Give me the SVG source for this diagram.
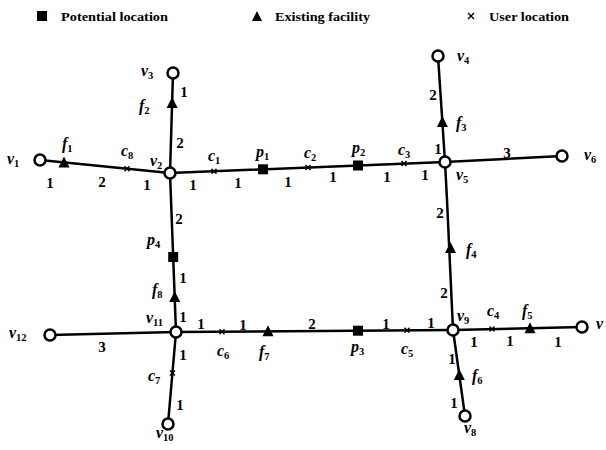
<svg xmlns="http://www.w3.org/2000/svg" width="606" height="450" viewBox="0 0 606 450">
<defs>
<style>
.e{stroke:#000;stroke-width:2.5;fill:none;stroke-linecap:round}
.n{fill:#fff;stroke:#000;stroke-width:2.5}
.sq{fill:#000}
.tr{fill:#000}
.x{stroke:#000;stroke-width:1.4;fill:none}
.lg{font-family:"Liberation Serif",serif;font-weight:bold;font-size:13.5px;fill:#000}
.lb{font-family:"Liberation Serif",serif;font-style:italic;font-weight:bold;font-size:16px;fill:#000}
.lb tspan{font-style:normal;font-size:10.5px}
.w{font-family:"Liberation Serif",serif;font-weight:bold;font-size:15px;fill:#000;text-anchor:middle}
</style>
<path id="tri" d="M-5.5,5 L5.5,5 L0,-6 Z"/>
<rect id="sqr" x="-5" y="-5" width="10" height="10"/>
<path id="xm" d="M-2.5,-2.5 L2.5,2.5 M-2.5,2.5 L2.5,-2.5"/>
</defs>
<rect width="606" height="450" fill="#fff"/>

<g id="legend">
<rect x="37" y="11" width="10" height="10" class="sq"/>
<text x="61" y="21" class="lg" textLength="107" lengthAdjust="spacingAndGlyphs">Potential location</text>
<path d="M252,21 L262,21 L257,11 Z" class="tr"/>
<text x="275" y="21" class="lg" textLength="95" lengthAdjust="spacingAndGlyphs">Existing facility</text>
<path d="M468,13 L474,19 M468,19 L474,13" class="x"/>
<text x="489" y="21" class="lg" textLength="80" lengthAdjust="spacingAndGlyphs">User location</text>
</g>

<g id="connectors">
<line class="e" x1="40" y1="160" x2="170" y2="173"/>
<line class="e" x1="170" y1="173" x2="173" y2="73"/>
<line class="e" x1="170" y1="173" x2="445" y2="162"/>
<line class="e" x1="445" y1="162" x2="438" y2="56"/>
<line class="e" x1="445" y1="162" x2="562" y2="156"/>
<line class="e" x1="170" y1="173" x2="176" y2="332"/>
<polyline class="e" points="445,162 447,200 453,330"/>
<line class="e" x1="176" y1="332" x2="50" y2="335"/>
<line class="e" x1="176" y1="332" x2="453" y2="330"/>
<line class="e" x1="176" y1="332" x2="168" y2="424"/>
<line class="e" x1="453" y1="330" x2="582" y2="327"/>
<line class="e" x1="453" y1="330" x2="465" y2="416"/>
</g>

<g id="markers">
<use href="#tri" class="tr" x="64" y="162.5"/>
<use href="#xm" class="x" x="127" y="168.7"/>
<use href="#xm" class="x" x="214" y="171.2"/>
<use href="#sqr" class="sq" x="263" y="169.3"/>
<use href="#xm" class="x" x="308" y="167.5"/>
<use href="#sqr" class="sq" x="358" y="165.5"/>
<use href="#xm" class="x" x="404" y="163.6"/>
<use href="#tri" class="tr" x="172.1" y="103"/>
<use href="#tri" class="tr" x="442.4" y="122"/>
<use href="#sqr" class="sq" x="173.2" y="257"/>
<use href="#tri" class="tr" x="174.7" y="297"/>
<use href="#tri" class="tr" x="450.5" y="248"/>
<use href="#xm" class="x" x="222" y="331.7"/>
<use href="#tri" class="tr" x="268" y="331.3"/>
<use href="#sqr" class="sq" x="358" y="330.7"/>
<use href="#xm" class="x" x="407" y="330.3"/>
<use href="#xm" class="x" x="492" y="329.1"/>
<use href="#tri" class="tr" x="530" y="328.2"/>
<use href="#tri" class="tr" x="459.3" y="375"/>
<use href="#xm" class="x" x="172.4" y="373"/>
</g>

<g id="v1"><circle class="n" cx="40" cy="160" r="5.5"/><text class="lb" x="7" y="164">v<tspan dy="3">1</tspan></text></g>
<g id="v2"><circle class="n" cx="170" cy="173" r="5.5"/><text class="lb" x="150" y="166">v<tspan dy="3">2</tspan></text></g>
<g id="v3"><circle class="n" cx="173" cy="73" r="5.5"/><text class="lb" x="141" y="76">v<tspan dy="3">3</tspan></text></g>
<g id="v4"><circle class="n" cx="438" cy="56" r="5.5"/><text class="lb" x="457" y="61">v<tspan dy="3">4</tspan></text></g>
<g id="v5"><circle class="n" cx="445" cy="162" r="5.5"/><text class="lb" x="456" y="180">v<tspan dy="3">5</tspan></text></g>
<g id="v6"><circle class="n" cx="562" cy="156" r="5.5"/><text class="lb" x="584" y="160">v<tspan dy="3">6</tspan></text></g>
<g id="v7"><circle class="n" cx="582" cy="327" r="5.5"/><text class="lb" x="596" y="329">v</text></g>
<g id="v8"><circle class="n" cx="465" cy="416" r="5.5"/><text class="lb" x="464" y="433">v<tspan dy="3">8</tspan></text></g>
<g id="v9"><circle class="n" cx="453" cy="330" r="5.5"/><text class="lb" x="457" y="321">v<tspan dy="3">9</tspan></text></g>
<g id="v10"><circle class="n" cx="168" cy="424" r="5.5"/><text class="lb" x="156" y="438">v<tspan dy="3">10</tspan></text></g>
<g id="v11"><circle class="n" cx="176" cy="332" r="5.5"/><text class="lb" x="146" y="323">v<tspan dy="3">11</tspan></text></g>
<g id="v12"><circle class="n" cx="50" cy="335" r="5.5"/><text class="lb" x="9" y="338">v<tspan dy="3">12</tspan></text></g>

<g id="labels">
<text class="lb" x="62" y="149">f<tspan dy="3">1</tspan></text>
<text class="lb" x="139" y="111">f<tspan dy="3">2</tspan></text>
<text class="lb" x="456" y="128">f<tspan dy="3">3</tspan></text>
<text class="lb" x="466" y="255">f<tspan dy="3">4</tspan></text>
<text class="lb" x="522" y="316">f<tspan dy="3">5</tspan></text>
<text class="lb" x="472" y="381">f<tspan dy="3">6</tspan></text>
<text class="lb" x="259" y="357">f<tspan dy="3">7</tspan></text>
<text class="lb" x="152" y="295">f<tspan dy="3">8</tspan></text>
<text class="lb" x="256" y="157">p<tspan dy="3">1</tspan></text>
<text class="lb" x="352" y="153">p<tspan dy="3">2</tspan></text>
<text class="lb" x="351" y="352">p<tspan dy="3">3</tspan></text>
<text class="lb" x="147" y="245">p<tspan dy="3">4</tspan></text>
<text class="lb" x="208" y="161">c<tspan dy="3">1</tspan></text>
<text class="lb" x="304" y="158">c<tspan dy="3">2</tspan></text>
<text class="lb" x="398" y="155">c<tspan dy="3">3</tspan></text>
<text class="lb" x="487" y="316">c<tspan dy="3">4</tspan></text>
<text class="lb" x="401" y="354">c<tspan dy="3">5</tspan></text>
<text class="lb" x="217" y="356">c<tspan dy="3">6</tspan></text>
<text class="lb" x="148" y="381">c<tspan dy="3">7</tspan></text>
<text class="lb" x="121" y="156">c<tspan dy="3">8</tspan></text>
</g>

<g id="weights">
<text class="w" x="50" y="188">1</text>
<text class="w" x="102" y="187">2</text>
<text class="w" x="147" y="190">1</text>
<text class="w" x="193" y="190">1</text>
<text class="w" x="238" y="188">1</text>
<text class="w" x="288" y="187">1</text>
<text class="w" x="333" y="182">1</text>
<text class="w" x="387" y="182">1</text>
<text class="w" x="425" y="180">1</text>
<text class="w" x="180" y="148">2</text>
<text class="w" x="184" y="97">1</text>
<text class="w" x="433" y="100">2</text>
<text class="w" x="438" y="154">1</text>
<text class="w" x="507" y="158">3</text>
<text class="w" x="179" y="224">2</text>
<text class="w" x="183" y="283">1</text>
<text class="w" x="183" y="322">1</text>
<text class="w" x="201" y="329">1</text>
<text class="w" x="243" y="330">1</text>
<text class="w" x="102" y="352">3</text>
<text class="w" x="183" y="360">1</text>
<text class="w" x="180" y="410">1</text>
<text class="w" x="440" y="218">2</text>
<text class="w" x="444" y="298">2</text>
<text class="w" x="312" y="329">2</text>
<text class="w" x="386" y="329">1</text>
<text class="w" x="431" y="328">1</text>
<text class="w" x="474" y="347">1</text>
<text class="w" x="510" y="346">1</text>
<text class="w" x="558" y="347">1</text>
<text class="w" x="452" y="364">1</text>
<text class="w" x="454" y="408">1</text>
</g>
</svg>
